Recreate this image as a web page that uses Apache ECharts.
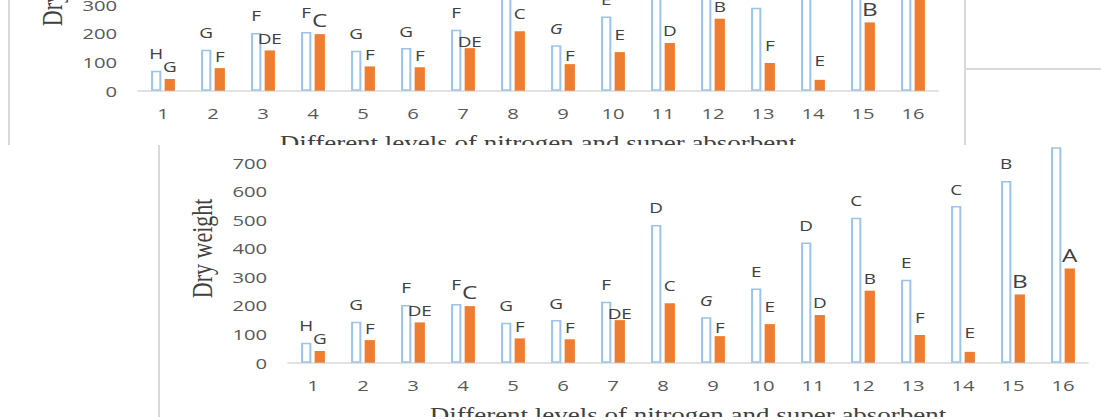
<!DOCTYPE html>
<html><head><meta charset="utf-8">
<script src="https://cdn.jsdelivr.net/npm/echarts@6/dist/echarts.min.js"></script>
<style>
html,body{margin:0;padding:0;width:1101px;height:420px;overflow:hidden;background:#fff;position:relative;}
.box{position:absolute;overflow:hidden;background:#fff;}
.chart{position:absolute;left:0;top:-40px;transform-origin:0 0;}
</style></head><body>
<div id="boxTop" class="box" style="left:8px;top:-127px;width:954px;height:272px;border-left:2px solid #d9d9d9;border-right:2px solid #d9d9d9;"><div id="chartTop" class="chart"></div></div>
<div id="boxBottom" class="box" style="left:158px;top:145px;width:954px;height:272px;border-left:2px solid #d9d9d9;"><div id="chartBottom" class="chart"></div></div>
<div style="position:absolute;left:966px;top:68px;width:135px;height:2px;background:#d9d9d9"></div>
<script>
const categories = ['1','2','3','4','5','6','7','8','9','10','11','12','13','14','15','16'];
const blueValues = [70,143,202,205,140,149,213,482,159,260,421,507,290,548,636,754];
const orangeValues = [41,79,141,198,85,82,149,208,93,135,167,252,97,38,239,330];
const blueLetters = ['H','G','F','F','G','G','F','D','G','E','D','C','E','C','B','A'];
const orangeLetters = ['G','F','DE','C','F','F','DE','C','F','E','D','B','F','E','B','A'];
const xAxisTitle = 'Different levels of nitrogen and super absorbent';
const yAxisTitle = 'Dry weight';

const S = 1.35;            // horizontal stretch of the source picture
const CW = 954, CH = 312;  // container size (post-stretch width)
const bigOrange = [3, 14, 15];
const italicBlue = [8];
const orangeGap = [5,5,5,5,5,5,0,11,2,11,5,5,10,12,5,5];
const blueGap = [10,10,10,13,10,10,10,10,10,10,10,10,10,10,10,10];

function build(id){
  const el = document.getElementById(id);
  el.style.width = (CW / S) + 'px';
  el.style.height = CH + 'px';
  el.style.transform = 'scaleX(' + S + ')';
  const chart = echarts.init(el, null, {renderer:'svg', width: CW / S, height: CH});
  const lblFont = '"Open Sans", sans-serif';
  const blueData = blueValues.map((v,i)=>({value:v, label:{
    formatter: blueLetters[i], distance: blueGap[i],
    fontStyle: italicBlue.includes(i) ? 'italic' : 'normal'}}));
  const orangeData = orangeValues.map((v,i)=>({value:v, label:{
    formatter: orangeLetters[i], distance: orangeGap[i],
    fontSize: bigOrange.includes(i) ? 18 : 14}}));
  chart.setOption({
    animation:false,
    grid:{left:128/S, width:800/S, top:29.1, height:228.6, containLabel:false, outerBoundsMode:'none'},
    xAxis:{type:'category', data:categories,
      axisLine:{lineStyle:{color:'#d9d9d9', width:1.5}},
      axisTick:{show:false},
      axisLabel:{color:'#595959', fontSize:15, fontFamily:lblFont, margin:15},
      name:xAxisTitle, nameLocation:'middle', nameGap:43,
      nameTextStyle:{color:'#404040', fontSize:20, fontFamily:'"Liberation Serif", serif'}},
    yAxis:{type:'value', min:0, max:800, interval:100,
      axisLine:{show:false}, axisTick:{show:false}, splitLine:{show:false},
      axisLabel:{color:'#595959', fontSize:15, fontFamily:lblFont, margin:15.5},
      name:yAxisTitle, nameLocation:'middle', nameGap:49,
      nameTextStyle:{color:'#404040', fontSize:22, fontFamily:'"Liberation Serif", serif'}},
    series:[
      {type:'bar', data:blueData, barWidth:7.6, barGap:'32%',
       itemStyle:{color:'#ffffff', borderColor:'#9dc3e6', borderWidth:1.5},
       label:{show:true, position:'top', color:'#404040', fontSize:14, fontFamily:lblFont}},
      {type:'bar', data:orangeData, barWidth:7.6,
       itemStyle:{color:'#ed7d31'},
       label:{show:true, position:'top', color:'#404040', fontSize:14, fontFamily:lblFont}}
    ]
  });
}
build('chartTop');
build('chartBottom');
</script>
</body></html>
